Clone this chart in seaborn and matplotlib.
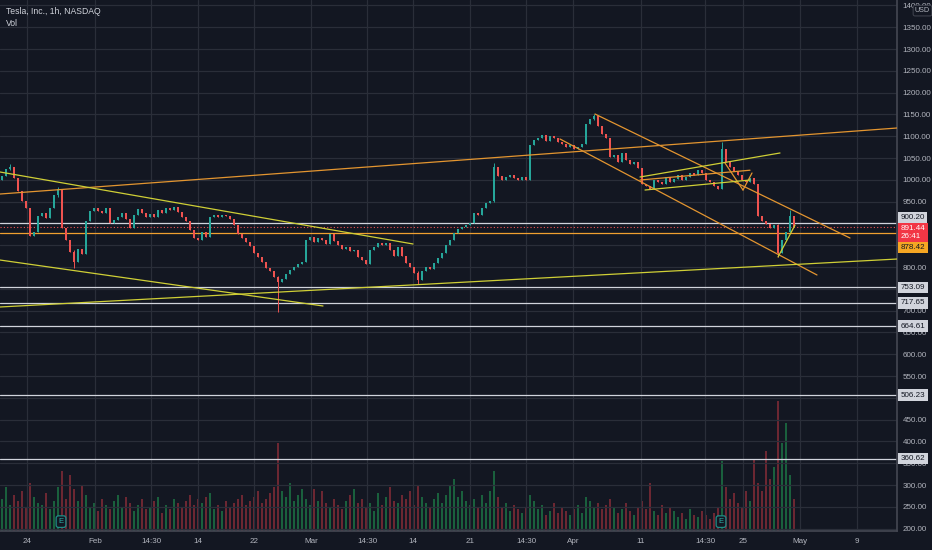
import numpy as np
import pandas as pd
import matplotlib
matplotlib.use("Agg")
import matplotlib.pyplot as plt
import matplotlib.transforms as mtransforms
import seaborn as sns

# hourly closes, one per bar (bar index = position on the compressed TradingView time axis)
closes = [
    1008, 1025, 1030, 1005, 975, 952, 935, 870, 880, 918,
    925, 912, 935, 965, 980, 890, 862, 835, 812, 842,
    830, 905, 928, 935, 928, 925, 935, 902, 908, 915,
    925, 910, 890, 920, 932, 925, 915, 922, 915, 930,
    925, 935, 930, 938, 926, 915, 905, 885, 866, 862,
    880, 868, 915, 920, 914, 920, 918, 910, 896, 875,
    866, 858, 848, 832, 822, 812, 798, 790, 778, 765,
    772, 785, 793, 800, 806, 812, 862, 868, 858, 866,
    862, 852, 875, 860, 850, 842, 846, 836, 840, 822,
    815, 806, 840, 846, 855, 850, 856, 840, 826, 845,
    826, 810, 800, 786, 770, 790, 800, 796, 810, 820,
    832, 850, 862, 878, 888, 892, 896, 902, 925, 920,
    935, 946, 952, 1030, 1008, 1000, 1006, 1012, 1004, 1000,
    1006, 1000, 1080, 1092, 1095, 1102, 1090, 1100, 1096, 1086,
    1082, 1076, 1080, 1070, 1075, 1082, 1128, 1140, 1146, 1124,
    1104, 1095, 1052, 1058, 1040, 1062, 1045, 1036, 1040, 1026,
    990, 985, 980, 1000, 994, 990, 1006, 996, 1002, 1010,
    1000, 1006, 1015, 1010, 1022, 1016, 1000, 996, 986, 980,
    1070, 1040, 1030, 1020, 1010, 1000, 994, 1004, 990, 918,
    905, 898, 890, 896, 832, 862, 880, 918, 891,
]
first_open = 1000

# volume per bar, millions of shares
volumes = [
    1.6, 2.2, 1.3, 1.8, 1.5, 2.0, 1.2, 2.4, 1.7, 1.4,
    1.3, 1.9, 1.1, 1.5, 2.2, 3.0, 1.6, 2.8, 2.1, 1.5,
    2.3, 1.8, 1.2, 1.4, 1.0, 1.6, 1.3, 1.1, 1.5, 1.8,
    1.2, 1.7, 1.4, 1.0, 1.3, 1.6, 1.1, 1.2, 1.5, 1.7,
    0.9, 1.3, 1.1, 1.6, 1.4, 1.2, 1.5, 1.8, 1.3, 1.6,
    1.4, 1.7, 1.9, 1.1, 1.3, 1.0, 1.5, 1.2, 1.4, 1.6,
    1.8, 1.3, 1.5, 1.7, 2.0, 1.4, 1.6, 1.9, 2.2, 4.4,
    2.0, 1.7, 2.4, 1.5, 1.8, 2.1, 1.6, 1.3, 2.1, 1.5,
    2.0, 1.4, 1.2, 1.6, 1.3, 1.1, 1.5, 1.8, 2.1, 1.4,
    1.6, 1.2, 1.4, 1.0, 1.9, 1.3, 1.7, 2.2, 1.5, 1.4,
    1.8, 1.6, 2.0, 1.3, 2.3, 1.7, 1.4, 1.2, 1.6, 1.9,
    1.4, 1.8, 2.3, 2.6, 1.7, 2.0, 1.5, 1.3, 1.6, 1.2,
    1.8, 1.4, 2.0, 3.0, 1.7, 1.2, 1.4, 1.0, 1.3, 1.1,
    0.9, 1.2, 1.8, 1.5, 1.1, 1.3, 0.8, 1.0, 1.4, 0.9,
    1.2, 1.0, 0.8, 1.1, 1.3, 0.9, 1.7, 1.5, 1.2, 1.4,
    1.1, 1.3, 1.6, 1.2, 0.9, 1.1, 1.4, 1.0, 0.8, 1.2,
    1.5, 1.1, 2.4, 1.0, 0.8, 1.3, 0.9, 1.2, 1.0, 0.7,
    0.9, 0.6, 1.1, 0.8, 0.7, 1.0, 0.8, 0.6, 0.9, 1.2,
    3.5, 2.2, 1.6, 1.9, 1.4, 1.2, 2.0, 1.5, 3.6, 2.4,
    2.0, 4.0, 2.6, 3.2, 6.5, 4.4, 5.4, 2.8, 1.6,
]

# bars with long wicks
wick_idx = [2, 14, 18, 69, 104, 123, 148, 180, 194, 197]
wick_high = [1036, 983, 838, 780, 790, 1038, 1152, 1087, 898, 930]
wick_low = [1022, 960, 798, 697, 762, 950, 1138, 978, 823, 880]

# earnings flags (bar index)
earnings_idx = [14.75, 179.75]

# x axis labels and their bar positions
tick_labels = ["24", "Feb", "14:30", "14", "22", "Mar", "14:30", "14",
               "21", "14:30", "Apr", "11", "14:30", "25", "May", "9"]
tick_idx = [6.25, 23.25, 37.25, 49, 63, 77.25, 91.25, 102.75,
            117, 131, 142.75, 159.75, 175.75, 185.25, 199.5, 213.75]

# horizontal levels drawn on the chart
white_levels = [900.20, 753.09, 717.65, 664.61, 506.23, 360.62]
last_price = 891.44
countdown = "26:41"
alert_level = 878.42

# trend lines: (bar0, price0, bar1, price1)
orange_lines = [
    (-0.5, 967.4, 223.75, 1118.8),
    (148.25, 1150.9, 212.0, 866.5),
    (139.5, 1093.6, 203.75, 781.7),
    (159.5, 999.5, 187.0, 1022.0),
    (180.75, 1038.5, 185.25, 976.6),
    (185.25, 976.6, 187.5, 1015.6),
]
yellow_lines = [
    (-0.5, 1017.9, 102.75, 852.8),
    (-0.5, 816.0, 80.25, 710.6),
    (-0.5, 708.3, 223.75, 818.3),
    (159.5, 1006.4, 194.5, 1061.5),
    (160.75, 976.6, 187.0, 999.5),
    (194.0, 823.0, 198.25, 896.0),
]

BG = "#131722"
GRID = "#2a2e39"
TXT = "#b2b5be"
UP = "#26a69a"
DOWN = "#ef5350"

sns.set_theme(style="dark", rc={
    "figure.facecolor": BG, "axes.facecolor": BG,
    "axes.edgecolor": "#434651", "grid.color": GRID,
    "text.color": TXT, "xtick.color": TXT, "ytick.color": TXT,
})
plt.rcParams["font.family"] = ["Liberation Sans", "DejaVu Sans"]
FS = 5.8

# build the bar table
df = pd.DataFrame({"close": closes, "volume": volumes})
df["bar"] = np.arange(len(df))
df["open"] = df["close"].shift(1).fillna(first_open)
df["high"] = df[["open", "close"]].max(axis=1)
df["low"] = df[["open", "close"]].min(axis=1)
df.loc[wick_idx, "high"] = np.maximum(df.loc[wick_idx, "high"], wick_high)
df.loc[wick_idx, "low"] = np.minimum(df.loc[wick_idx, "low"], wick_low)
df["up"] = df["close"] >= df["open"]

fig = plt.figure(figsize=(9.32, 5.5), dpi=100)
ax = fig.add_axes([0, 19 / 550, 897 / 932, 531 / 550])
axv = ax.twinx()
axv.set_zorder(1)
ax.set_zorder(2)
ax.patch.set_visible(False)
axv.patch.set_facecolor(BG)

# volume
vcol = np.where(df["up"], "#1f9150", "#a8323e")
axv.bar(df["bar"], df["volume"], width=0.5, color=vcol, alpha=0.6, linewidth=0)
axv.set_ylim(0, 26.55)
axv.set_yticks([])
axv.grid(False)
for s in axv.spines.values():
    s.set_visible(False)

# candles
col = np.where(df["up"], UP, DOWN)
ax.vlines(df["bar"], df["low"], df["high"], colors=col, linewidth=0.7, zorder=3)
body = (df["close"] - df["open"]).abs().clip(lower=1.5)
ax.bar(df["bar"], body, bottom=df[["open", "close"]].min(axis=1), width=0.55,
       color=col, linewidth=0, zorder=4)

# levels
for lv in white_levels:
    ax.axhline(lv, color="#d1d4dc", linewidth=0.9, zorder=2)
ax.axhline(alert_level, color="#f0a030", linewidth=0.9, zorder=2)
ax.axhline(last_price, color=DOWN, linewidth=0.8, linestyle=(0, (1, 2)), zorder=2)

for x0, y0, x1, y1 in orange_lines:
    ax.plot([x0, x1], [y0, y1], color="#e39530", linewidth=0.9, zorder=5)
for x0, y0, x1, y1 in yellow_lines:
    ax.plot([x0, x1], [y0, y1], color="#cfcf36", linewidth=0.9, zorder=5)

# earnings flags
for e in earnings_idx:
    ax.text(e, 216, "E", fontsize=5.5, color="#2bb3a8", ha="center", va="center",
            zorder=6, bbox=dict(boxstyle="round,pad=0.3", fc=BG, ec="#1f8c86", lw=0.9))

ax.set_xlim(-0.5, 223.75)
ax.set_ylim(194.5, 1412.4)
ax.set_xticks(tick_idx)
ax.set_xticklabels(tick_labels)
yt = np.arange(200, 1401, 50)
ax.set_yticks(yt)
hidden = {900, 850, 750, 500}
ax.set_yticklabels(["" if v in hidden else f"{v:.2f}" for v in yt])
ax.yaxis.tick_right()
ax.tick_params(axis="both", length=0, labelsize=FS, colors=TXT)
ax.tick_params(axis="y", pad=4)
ax.tick_params(axis="x", pad=5)
ax.grid(True, color=GRID, linewidth=0.9)
for name, s in ax.spines.items():
    s.set_visible(name in ("right", "bottom"))
    s.set_color("#434651")

# price labels on the right scale
tr = mtransforms.blended_transform_factory(ax.transAxes, ax.transData)
label_shift = {900.20: 13.3}
box = dict(boxstyle="square,pad=0.3", ec="none")
for lv in white_levels:
    ax.text(1.004, lv + label_shift.get(lv, 0), f"{lv:.2f}", transform=tr, fontsize=FS,
            color="#131722", ha="left", va="center", clip_on=False, zorder=10,
            bbox={**box, "fc": "#d1d4dc"})
ax.text(1.004, last_price - 12.4, f"{last_price:.2f}\n{countdown}", transform=tr,
        fontsize=FS, color="white", ha="left", va="center", clip_on=False, zorder=10,
        linespacing=1.15, bbox={**box, "fc": "#f23645"})
ax.text(1.004, alert_level - 33.7, f"{alert_level:.2f}", transform=tr, fontsize=FS,
        color="#131722", ha="left", va="center", clip_on=False, zorder=10,
        bbox={**box, "fc": "#f5a623"})
ax.text(1.02, 1388, "USD", transform=tr, fontsize=5.2, color=TXT, ha="left",
        va="center", clip_on=False, zorder=10,
        bbox=dict(boxstyle="round,pad=0.25", fc=BG, ec="#434651", lw=0.7))

fig.text(0.006, 1 - 11 / 550, "Tesla, Inc., 1h, NASDAQ", fontsize=6.2,
         color="#d1d4dc", va="center")
fig.text(0.006, 1 - 23 / 550, "Vol", fontsize=6.2, color="#d1d4dc", va="center")

fig.savefig("out.png", dpi=100, facecolor=BG)
